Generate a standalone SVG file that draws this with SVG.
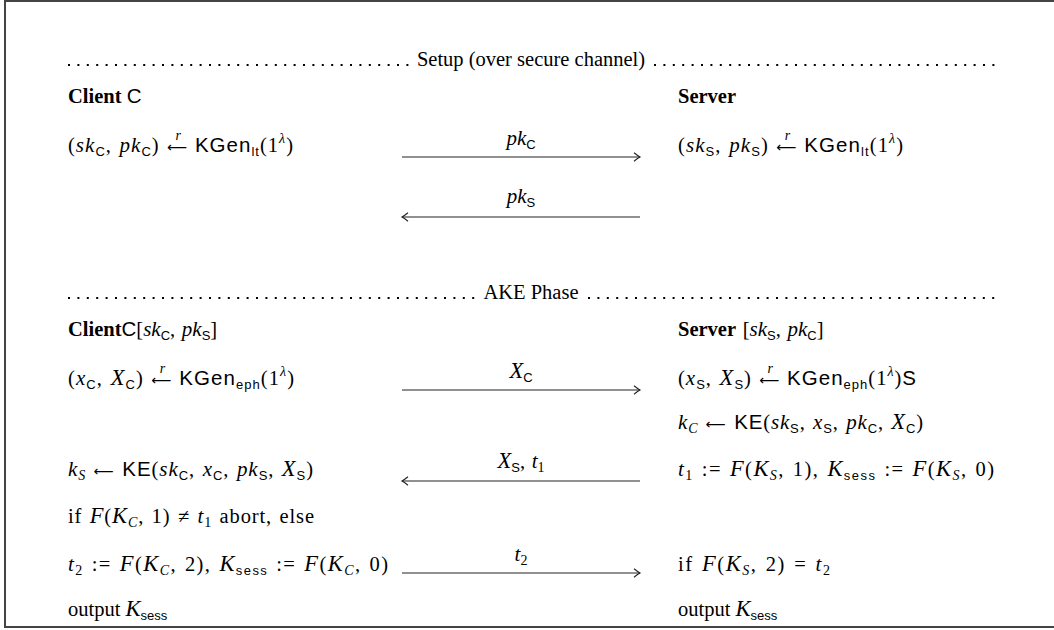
<svg xmlns="http://www.w3.org/2000/svg" width="1054" height="630" viewBox="0 0 1054 630">
  <style>
    .t { font-family: "Liberation Serif", serif; font-size: 20.5px; fill: #000; }
    .w { word-spacing: 1.5px; }
    .b { font-weight: bold; }
    .m { font-style: italic; font-size: 21px; }
    .M { font-style: italic; font-size: 22.5px; }
    .sf { font-family: "Liberation Sans", sans-serif; font-style: normal; }
    .ss { font-family: "Liberation Sans", sans-serif; font-size: 13px; font-style: normal; }
    .si { font-style: italic; font-size: 14px; }
    .sr { font-size: 14px; }
    .sup { font-style: italic; font-size: 14px; }
    .ar { font-family: "DejaVu Sans", sans-serif; font-size: 14px; }
    .mid { text-anchor: middle; }
    .dots { stroke: #000; stroke-width: 2; stroke-dasharray: 2 7.4; fill: none; }
    .msg { stroke: #222; stroke-width: 1.2; fill: none; }
  </style>
  <defs>
    <marker id="head" markerUnits="userSpaceOnUse" markerWidth="12" markerHeight="12" refX="0" refY="0" viewBox="-8 -6 10 12" orient="auto-start-reverse">
      <path d="M-6,-4.2 Q-2,-1 0,0 Q-2,1 -6,4.2" stroke="#222" stroke-width="1.1" fill="none"/>
    </marker>
  </defs>

  <rect width="1054" height="630" fill="#fff"/>
  <!-- frame (right edge lies outside the canvas) -->
  <path d="M1060,1 H5 V627 H1060" fill="none" stroke="#444" stroke-width="2"/>

  <!-- section headers -->
  <g id="setup-header">
    <line class="dots" x1="68" y1="65" x2="410" y2="65"/>
    <text class="t mid" x="531" y="66">Setup (over secure channel)</text>
    <line class="dots" x1="654" y1="65" x2="995" y2="65"/>
  </g>
  <g id="ake-header">
    <line class="dots" x1="68" y1="298" x2="478" y2="298"/>
    <text class="t mid" x="531" y="299">AKE Phase</text>
    <line class="dots" x1="588" y1="298" x2="995" y2="298"/>
  </g>

  <!-- client side -->
  <g id="client-setup">
    <text class="t" x="68" y="103"><tspan class="b">Client</tspan> <tspan class="sf">C</tspan></text>
    <text class="t w" x="68" y="152" textLength="225" lengthAdjust="spacing">(<tspan class="m">sk</tspan><tspan class="ss" dy="4">C</tspan><tspan dy="-4">, </tspan><tspan class="m">pk</tspan><tspan class="ss" dy="4">C</tspan><tspan dy="-4">) </tspan><tspan class="ar">⟵</tspan><tspan class="sup" dx="-13" dy="-12">r</tspan><tspan class="sf" dx="13" dy="12">KGen</tspan><tspan class="ss" dy="4">lt</tspan><tspan dy="-4">(1</tspan><tspan class="sup" dy="-9">λ</tspan><tspan dy="9">)</tspan></text>
  </g>

  <g id="client-ake">
    <text class="t w" x="68" y="336"><tspan class="b">Client</tspan><tspan class="sf">C</tspan>[<tspan class="m">sk</tspan><tspan class="ss" dy="4">C</tspan><tspan dy="-4">, </tspan><tspan class="m">pk</tspan><tspan class="ss" dy="4">S</tspan><tspan dy="-4">]</tspan></text>
    <text class="t w" x="68" y="385" textLength="226" lengthAdjust="spacing">(<tspan class="m">x</tspan><tspan class="ss" dy="4">C</tspan><tspan dy="-4">, </tspan><tspan class="M">X</tspan><tspan class="ss" dy="4">C</tspan><tspan dy="-4">) </tspan><tspan class="ar">⟵</tspan><tspan class="sup" dx="-13" dy="-12">r</tspan><tspan class="sf" dx="13" dy="12">KGen</tspan><tspan class="ss" dy="4">eph</tspan><tspan dy="-4">(1</tspan><tspan class="sup" dy="-9">λ</tspan><tspan dy="9">)</tspan></text>
    <text class="t w" x="68" y="476" textLength="245" lengthAdjust="spacing"><tspan class="m">k</tspan><tspan class="si" dy="4">S</tspan><tspan dy="-4"> </tspan><tspan class="ar">⟵</tspan> <tspan class="sf">KE</tspan>(<tspan class="m">sk</tspan><tspan class="ss" dy="4">C</tspan><tspan dy="-4">, </tspan><tspan class="m">x</tspan><tspan class="ss" dy="4">C</tspan><tspan dy="-4">, </tspan><tspan class="m">pk</tspan><tspan class="ss" dy="4">S</tspan><tspan dy="-4">, </tspan><tspan class="M">X</tspan><tspan class="ss" dy="4">S</tspan><tspan dy="-4">)</tspan></text>
    <text class="t w" x="68" y="523" textLength="246" lengthAdjust="spacing">if <tspan class="M">F</tspan>(<tspan class="M">K</tspan><tspan class="si" dy="4">C</tspan><tspan dy="-4">, 1) ≠ </tspan><tspan class="m">t</tspan><tspan class="sr" dy="4">1</tspan><tspan dy="-4"> abort, else</tspan></text>
    <text class="t w" x="68" y="571" textLength="320" lengthAdjust="spacing"><tspan class="m">t</tspan><tspan class="sr" dy="4">2</tspan><tspan dy="-4"> := </tspan><tspan class="M">F</tspan>(<tspan class="M">K</tspan><tspan class="si" dy="4">C</tspan><tspan dy="-4">, 2), </tspan><tspan class="M">K</tspan><tspan class="ss" dy="4">sess</tspan><tspan dy="-4"> := </tspan><tspan class="M">F</tspan>(<tspan class="M">K</tspan><tspan class="si" dy="4">C</tspan><tspan dy="-4">, 0)</tspan></text>
    <text class="t" x="68" y="616">output <tspan class="M">K</tspan><tspan class="ss" dy="4">sess</tspan></text>
  </g>

  <!-- server side -->
  <g id="server-setup">
    <text class="t b" x="678" y="103">Server</text>
    <text class="t w" x="678" y="152" textLength="225" lengthAdjust="spacing">(<tspan class="m">sk</tspan><tspan class="ss" dy="4">S</tspan><tspan dy="-4">, </tspan><tspan class="m">pk</tspan><tspan class="ss" dy="4">S</tspan><tspan dy="-4">) </tspan><tspan class="ar">⟵</tspan><tspan class="sup" dx="-13" dy="-12">r</tspan><tspan class="sf" dx="13" dy="12">KGen</tspan><tspan class="ss" dy="4">lt</tspan><tspan dy="-4">(1</tspan><tspan class="sup" dy="-9">λ</tspan><tspan dy="9">)</tspan></text>
  </g>

  <g id="server-ake">
    <text class="t w" x="678" y="336"><tspan class="b">Server</tspan> [<tspan class="m">sk</tspan><tspan class="ss" dy="4">S</tspan><tspan dy="-4">, </tspan><tspan class="m">pk</tspan><tspan class="ss" dy="4">C</tspan><tspan dy="-4">]</tspan></text>
    <text class="t w" x="678" y="385" textLength="238" lengthAdjust="spacing">(<tspan class="m">x</tspan><tspan class="ss" dy="4">S</tspan><tspan dy="-4">, </tspan><tspan class="M">X</tspan><tspan class="ss" dy="4">S</tspan><tspan dy="-4">) </tspan><tspan class="ar">⟵</tspan><tspan class="sup" dx="-13" dy="-12">r</tspan><tspan class="sf" dx="13" dy="12">KGen</tspan><tspan class="ss" dy="4">eph</tspan><tspan dy="-4">(1</tspan><tspan class="sup" dy="-9">λ</tspan><tspan dy="9">)</tspan><tspan class="sf">S</tspan></text>
    <text class="t w" x="678" y="429" textLength="245" lengthAdjust="spacing"><tspan class="m">k</tspan><tspan class="si" dy="4">C</tspan><tspan dy="-4"> </tspan><tspan class="ar">⟵</tspan> <tspan class="sf">KE</tspan>(<tspan class="m">sk</tspan><tspan class="ss" dy="4">S</tspan><tspan dy="-4">, </tspan><tspan class="m">x</tspan><tspan class="ss" dy="4">S</tspan><tspan dy="-4">, </tspan><tspan class="m">pk</tspan><tspan class="ss" dy="4">C</tspan><tspan dy="-4">, </tspan><tspan class="M">X</tspan><tspan class="ss" dy="4">C</tspan><tspan dy="-4">)</tspan></text>
    <text class="t w" x="678" y="476" textLength="316" lengthAdjust="spacing"><tspan class="m">t</tspan><tspan class="sr" dy="4">1</tspan><tspan dy="-4"> := </tspan><tspan class="M">F</tspan>(<tspan class="M">K</tspan><tspan class="si" dy="4">S</tspan><tspan dy="-4">, 1), </tspan><tspan class="M">K</tspan><tspan class="ss" dy="4">sess</tspan><tspan dy="-4"> := </tspan><tspan class="M">F</tspan>(<tspan class="M">K</tspan><tspan class="si" dy="4">S</tspan><tspan dy="-4">, 0)</tspan></text>
    <text class="t w" x="678" y="571" textLength="152" lengthAdjust="spacing">if <tspan class="M">F</tspan>(<tspan class="M">K</tspan><tspan class="si" dy="4">S</tspan><tspan dy="-4">, 2) = </tspan><tspan class="m">t</tspan><tspan class="sr" dy="4">2</tspan></text>
    <text class="t" x="678" y="616">output <tspan class="M">K</tspan><tspan class="ss" dy="4">sess</tspan></text>
  </g>

  <!-- messages -->
  <g id="connectors">
    <line class="msg" x1="402" y1="157" x2="640" y2="157" marker-end="url(#head)"/>
    <text class="t mid" x="521" y="145"><tspan class="m">pk</tspan><tspan class="ss" dy="4">C</tspan></text>

    <line class="msg" x1="402" y1="217" x2="640" y2="217" marker-start="url(#head)"/>
    <text class="t mid" x="521" y="203"><tspan class="m">pk</tspan><tspan class="ss" dy="4">S</tspan></text>

    <line class="msg" x1="402" y1="390" x2="640" y2="390" marker-end="url(#head)"/>
    <text class="t mid" x="521" y="378"><tspan class="M">X</tspan><tspan class="ss" dy="4">C</tspan></text>

    <line class="msg" x1="402" y1="481" x2="640" y2="481" marker-start="url(#head)"/>
    <text class="t w mid" x="521" y="468"><tspan class="M">X</tspan><tspan class="ss" dy="4">S</tspan><tspan dy="-4">, </tspan><tspan class="m">t</tspan><tspan class="sr" dy="4">1</tspan></text>

    <line class="msg" x1="402" y1="573" x2="640" y2="573" marker-end="url(#head)"/>
    <text class="t mid" x="521" y="561"><tspan class="m">t</tspan><tspan class="sr" dy="4">2</tspan></text>
  </g>
</svg>
